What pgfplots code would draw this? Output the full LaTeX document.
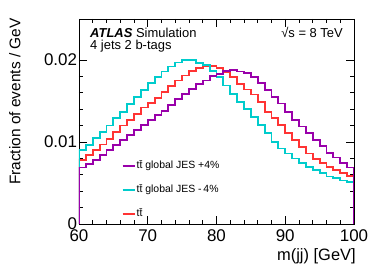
\documentclass[border=0pt]{standalone}
\usepackage{fontspec}
\setmainfont{Liberation Sans}
\usepackage{pgfplots}
\usepackage{pgfplotstable}
\pgfplotsset{compat=1.18}
\definecolor{cPur}{RGB}{153,0,170}
\definecolor{cCya}{RGB}{0,204,204}
\definecolor{cRed}{RGB}{255,51,51}

\pgfplotstableread{
x y
60 0
60 0.0078
61 0.0084
62 0.0090
63 0.0097
64 0.0104
65 0.0112
66 0.0120
67 0.0127
68 0.0134
69 0.0142
70 0.0148
71 0.0154
72 0.0161
73 0.0168
74 0.0175
75 0.0181
76 0.0187
77 0.0190
78 0.0193
79 0.0193
80 0.0190
81 0.0185
82 0.0179
83 0.0171
84 0.0164
85 0.0158
86 0.0149
87 0.0137
88 0.0129
89 0.0121
90 0.0111
91 0.0102
92 0.0094
93 0.0086
94 0.0079
95 0.0074
96 0.0070
97 0.0066
98 0.0062
99 0.0059
100 0.0059
100 0
}\nominal

\pgfplotstableread{
x y
60 0
60 0.0090
61 0.0096
62 0.0105
63 0.0112
64 0.0120
65 0.0129
66 0.0137
67 0.0146
68 0.0155
69 0.0163
70 0.0172
71 0.0179
72 0.0186
73 0.0192
74 0.0197
75 0.0200
76 0.0200
77 0.0196
78 0.0194
79 0.0187
80 0.0179
81 0.0169
82 0.0159
83 0.0149
84 0.0140
85 0.0130
86 0.0121
87 0.0111
88 0.0100
89 0.0092
90 0.0086
91 0.0080
92 0.0074
93 0.0070
94 0.0066
95 0.0062
96 0.0058
97 0.0056
98 0.0053
99 0.0051
100 0.0051
100 0
}\jesdown

\pgfplotstableread{
x y
60 0
60 0.0069
61 0.0073
62 0.0078
63 0.0084
64 0.0090
65 0.0096
66 0.0102
67 0.0109
68 0.0115
69 0.0121
70 0.0127
71 0.0133
72 0.0138
73 0.0145
74 0.0152
75 0.0159
76 0.0165
77 0.0171
78 0.0175
79 0.0180
80 0.0183
81 0.0187
82 0.0188
83 0.0186
84 0.0184
85 0.0179
86 0.0172
87 0.0163
88 0.0155
89 0.0147
90 0.0137
91 0.0127
92 0.0119
93 0.0111
94 0.0102
95 0.0095
96 0.0087
97 0.0081
98 0.0074
99 0.0069
100 0.0069
100 0
}\jesup

\begin{document}
\begin{tikzpicture}
\begin{axis}[
  scale only axis, width=275bp, height=205bp,
  xmin=60, xmax=100, ymin=0, ymax=0.025,
  xtick={60,70,80,90,100}, xticklabels={60,70,80,90,100},
  ytick={0,0.01,0.02}, yticklabels={0,0.01,0.02},
  scaled y ticks=false, scaled x ticks=false,
  minor x tick num=4, minor y tick num=4,
  tick align=inside,
  major tick length=8bp, minor tick length=4bp,
  tick style={black, line width=0.8bp},
  axis line style={line width=0.8bp},
  ticklabel style={font=\fontsize{17}{17}\selectfont},
  xticklabel style={yshift=-2bp},
  yticklabel style={xshift=1.5bp},
  xlabel={m(jj) [GeV]},
  xlabel style={font=\fontsize{16.5}{17}\selectfont, at={(axis description cs:1.019,-0.156)}, anchor=east},
  ylabel={Fraction of events / GeV},
  ylabel style={font=\fontsize{15.5}{16}\selectfont, at={(axis description cs:-0.233,1.02)}, anchor=east, rotate=0},
  legend style={at={(axis description cs:0.155,0.315)}, anchor=north west, draw=none, fill=none,
    font=\fontsize{10.5}{11}\selectfont, row sep=11bp, inner sep=0pt,
    nodes={inner sep=1bp, text height=8bp, text depth=3bp}},
  legend cell align=left,
  legend image code/.code={\draw[#1, line width=1.8bp] (0bp,0bp) -- (12bp,0bp);},
  reverse legend,
]
\addplot[const plot, cRed, line width=1.8bp] table {\nominal};
\addlegendentry{t\=t}
\addplot[const plot, cCya, line width=1.8bp] table {\jesdown};
\addlegendentry{t\=t global JES -\,4\%}
\addplot[const plot, cPur, line width=1.8bp] table {\jesup};
\addlegendentry{t\=t global JES +4\%}
\node[anchor=base west, font=\fontsize{13}{13}\selectfont, inner sep=0pt] at (axis description cs:0.04,0.909) {\textbf{\textit{ATLAS}} Simulation};
\node[anchor=base west, font=\fontsize{13}{13}\selectfont, inner sep=0pt] at (axis description cs:0.04,0.852) {4 jets 2 b-tags};
\node[anchor=base east, font=\fontsize{13}{13}\selectfont, inner sep=0pt] at (axis description cs:0.96,0.909) {√s = 8 TeV};
\end{axis}
\pgfresetboundingbox
\path (current axis.south west) ++(-79bp,-44bp) rectangle ++(374bp,268bp);
\end{tikzpicture}
\end{document}
